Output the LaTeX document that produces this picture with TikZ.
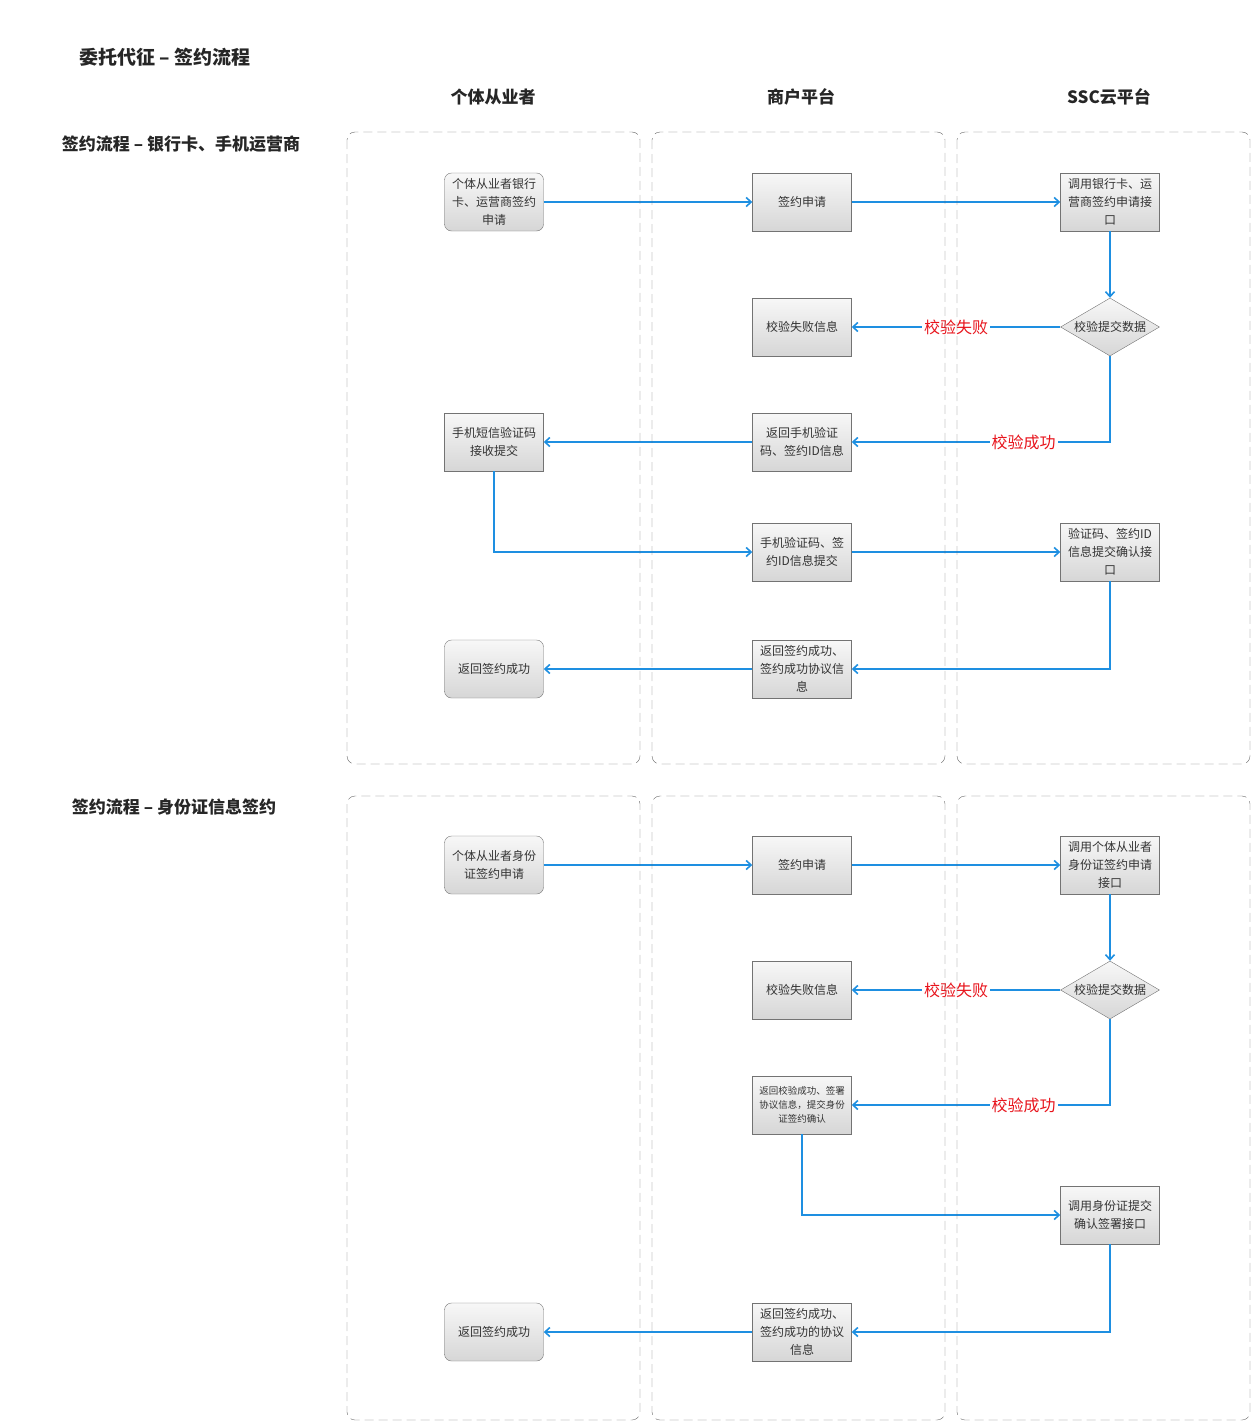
\documentclass[tikz,border=0pt]{standalone}
\usepackage{fontspec}
\setmainfont{Noto Sans CJK SC}
\usetikzlibrary{shapes.geometric,arrows.meta}
\definecolor{flowblue}{HTML}{1E8FE1}
\definecolor{failred}{HTML}{E8141C}
\tikzset{
  box/.style={draw=black!55, top color=black!3, bottom color=black!16, minimum width=99pt,
    minimum height=58pt, inner sep=1pt, align=center, font=\fontsize{12}{18}\selectfont, text=black!80},
  rbox/.style={box, rounded corners=7pt},
  dbox/.style={diamond, draw=black!55, top color=black!3, bottom color=black!16, aspect=1.7,
    minimum width=99pt, minimum height=58pt, inner sep=0pt, font=\fontsize{12}{18}\selectfont, text=black!80},
  flow/.style={draw=flowblue, line width=1.6pt, -{Straight Barb[length=5pt,width=9pt]}},
  lbl/.style={fill=white, text=failred, font=\fontsize{16}{18}\selectfont, inner sep=2pt},
  lane/.style={draw=black!60, dash pattern=on 9pt off 5pt, rounded corners=8pt},
  head/.style={font=\fontsize{17}{20}\selectfont\bfseries, text=black!85}
}
\begin{document}
\begin{tikzpicture}[x=1pt,y=-1pt]
    \useasboundingbox (0,0) rectangle (1251,1421);

    % Titles
    \node[head, font=\fontsize{19}{22}\selectfont\bfseries] (title) at (165,57) {委托代征 – 签约流程};
    \node[head] (h1) at (493,97) {个体从业者};
    \node[head] (h2) at (801,97) {商户平台};
    \node[head] (h3) at (1109,97) {SSC云平台};
    \node[head] (s1) at (181,144) {签约流程 – 银行卡、手机运营商};
    \node[head] (s2) at (174,807) {签约流程 – 身份证信息签约};

    % Bank card / mobile flow
    \node[rbox] (a1) at (494,202) {个体从业者银行\\卡、运营商签约\\申请};
    \node[box]  (b1) at (802,202) {签约申请};
    \node[box]  (c1) at (1110,202) {调用银行卡、运\\营商签约申请接\\口};
    \node[dbox] (d1) at (1110,327) {校验提交数据};
    \node[box]  (b2) at (802,327) {校验失败信息};
    \node[box]  (b3) at (802,442) {返回手机验证\\码、签约ID信息};
    \node[box]  (a3) at (494,442) {手机短信验证码\\接收提交};
    \node[box]  (b4) at (802,552) {手机验证码、签\\约ID信息提交};
    \node[box]  (c4) at (1110,552) {验证码、签约ID\\信息提交确认接\\口};
    \node[box]  (b5) at (802,669) {返回签约成功、\\签约成功协议信\\息};
    \node[rbox] (a5) at (494,669) {返回签约成功};

    \draw[flow] (a1) -- (b1);
    \draw[flow] (b1) -- (c1);
    \draw[flow] (c1) -- (d1);
    \draw[flow] (d1) -- node[lbl, pos=0.5] {校验失败} (b2);
    \draw[flow] (d1) |- node[lbl, pos=0.667] {校验成功} (b3);
    \draw[flow] (b3) -- (a3);
    \draw[flow] (a3) |- (b4);
    \draw[flow] (b4) -- (c4);
    \draw[flow] (c4) |- (b5);
    \draw[flow] (b5) -- (a5);

    % ID card flow
    \node[rbox] (a6) at (494,865) {个体从业者身份\\证签约申请};
    \node[box]  (b6) at (802,865) {签约申请};
    \node[box]  (c6) at (1110,865) {调用个体从业者\\身份证签约申请\\接口};
    \node[dbox] (d2) at (1110,990) {校验提交数据};
    \node[box]  (b7) at (802,990) {校验失败信息};
    \node[box, font=\fontsize{9.5}{14}\selectfont] (b8) at (802,1105) {返回校验成功、签署\\协议信息，提交身份\\证签约确认};
    \node[box]  (c9) at (1110,1215) {调用身份证提交\\确认签署接口};
    \node[box]  (b10) at (802,1332) {返回签约成功、\\签约成功的协议\\信息};
    \node[rbox] (a10) at (494,1332) {返回签约成功};

    \draw[flow] (a6) -- (b6);
    \draw[flow] (b6) -- (c6);
    \draw[flow] (c6) -- (d2);
    \draw[flow] (d2) -- node[lbl, pos=0.5] {校验失败} (b7);
    \draw[flow] (d2) |- node[lbl, pos=0.667] {校验成功} (b8);
    \draw[flow] (b8) |- (c9);
    \draw[flow] (c9) |- (b10);
    \draw[flow] (b10) -- (a10);

    % Swimlanes
    \foreach \x in {347,652,957} {
        \draw[lane] (\x,132) rectangle ++(293,632);
        \draw[lane] (\x,796) rectangle ++(293,624);
    }
\end{tikzpicture}
\end{document}
